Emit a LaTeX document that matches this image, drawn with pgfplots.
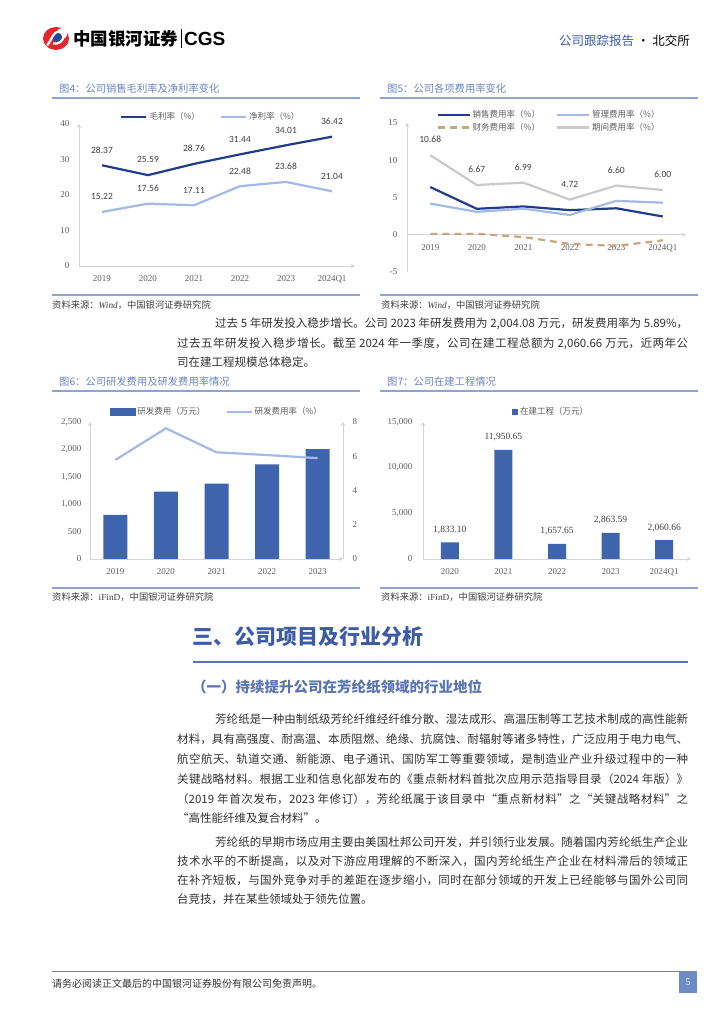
\documentclass[border=0pt]{standalone}
\usepackage{fontspec}
\usepackage{pgfplots}
\pgfplotsset{compat=1.18}
\setmainfont{Noto Sans CJK SC}
\newfontfamily\tnr{Liberation Serif}
\newfontfamily\calib{Carlito}
\newfontfamily\arl{Liberation Sans}
\XeTeXlinebreaklocale "zh"
\XeTeXlinebreakskip=0pt plus 2pt minus 0.3pt

\definecolor{navy}{HTML}{1F3D8C}
\definecolor{lblue}{HTML}{A3B9E6}
\definecolor{tanc}{HTML}{C9A679}
\definecolor{lgray}{HTML}{CACACA}
\definecolor{barblue}{HTML}{3E64AD}
\definecolor{ttlblue}{HTML}{6A86C2}
\definecolor{rulec}{HTML}{8FA3D0}
\definecolor{headblue}{HTML}{3D5CA6}
\definecolor{axgray}{HTML}{D4D4D4}
\definecolor{tickc}{HTML}{5E5E5E}
\definecolor{labc}{HTML}{404040}
\definecolor{bodyc}{HTML}{333333}
\definecolor{logored}{HTML}{E0282E}
\definecolor{logoblue}{HTML}{1F4A9C}
\definecolor{pagebox}{HTML}{6F8BC6}

\pgfplotsset{
  cmn/.style={
    scale only axis, clip=false,
    axis line style={draw=axgray, line width=0.9pt},
    every outer x axis line/.append style={-},
    every outer y axis line/.append style={-},
    every inner x axis line/.append style={-},
    every inner y axis line/.append style={-},
    major tick length=0pt,
    scaled y ticks=false,
    hide obscured x ticks=false, hide obscured y ticks=false,
    /pgf/number format/assume math mode=true,
    /pgf/number format/1000 sep={,},
    tick label style={font=\tnr\fontsize{9}{10}\selectfont, text=tickc},
    xticklabel style={yshift=-6pt},
    legend cell align=left,
    legend style={draw=none, fill=none, font=\fontsize{8.5}{10}\selectfont, text=tickc,
      /tikz/every even column/.append style={column sep=18pt}},
  },
  lineleg/.style={legend image code/.code={\draw[##1] (0pt,0pt) -- (25pt,0pt);}},
  lineleg2/.style={legend image code/.code={\draw[##1] (0pt,0pt) -- (32pt,0pt);}},
  lbl/.style={nodes near coords={\pgfmathprintnumber[fixed,fixed zerofill,precision=2]{\pgfplotspointmeta}},
    every node near coord/.append style={font=\calib\fontsize{9.5}{10}\selectfont, text=labc,
      anchor=south, inner sep=0pt, yshift=11pt}},
}

% one justified line of body text, x, baseline y, width, text
\newcommand{\jl}[4]{\node[anchor=base west,inner sep=0pt,text=bodyc,font=\fontsize{11.5}{14}\selectfont] at (#1,#2) {\parbox[b]{#3pt}{\parindent=0pt\parfillskip=0pt #4\par}};}
\newcommand{\lastl}[3]{\node[anchor=base west,inner sep=0pt,text=bodyc,font=\fontsize{11.5}{14}\selectfont] at (#1,#2) {#3};}

\begin{document}
\begin{tikzpicture}[x=1pt,y=1pt]
\path[use as bounding box, fill=white] (0,0) rectangle (724,1024);

% header
\begin{scope}[shift={(56,985.5)}]
  \fill[logored] (0,0) ellipse (13 and 11.5);
  \fill[white] (6,5) circle (5.5);
  \fill[logoblue] (1.5,1) circle (4.8);
  \draw[white, line width=2.2pt] (-9,-7) .. controls (-4,-1) and (-3,7) .. (3,7);
  \draw[white, line width=2.2pt] (-3,-5) .. controls (3,-6) and (6,-3) .. (8,2);
\end{scope}
\node[anchor=west, inner sep=0pt, font=\fontsize{17.5}{20}\selectfont\bfseries] at (73,985) {中国银河证券};
\draw[line width=1pt] (181,995) -- (181,976);
\node[anchor=west, inner sep=0pt, font=\arl\fontsize{19}{20}\selectfont\bfseries] at (184,985) {CGS};
\node[anchor=east, inner sep=0pt, font=\fontsize{12.5}{14}\selectfont] at (690,983) {{\color{headblue}公司跟踪报告}\ ·\ 北交所};

% chart titles and rules
\node[anchor=west, inner sep=0pt, text=ttlblue, font=\fontsize{10.3}{12}\selectfont] at (59,935) {图4：公司销售毛利率及净利率变化};
\node[anchor=west, inner sep=0pt, text=ttlblue, font=\fontsize{10.3}{12}\selectfont] at (387,935) {图5：公司各项费用率变化};
\node[anchor=west, inner sep=0pt, text=ttlblue, font=\fontsize{10.3}{12}\selectfont] at (59,642) {图6：公司研发费用及研发费用率情况};
\node[anchor=west, inner sep=0pt, text=ttlblue, font=\fontsize{10.3}{12}\selectfont] at (387,642) {图7：公司在建工程情况};
\draw[rulec, line width=1.1pt] (52,926) -- (360,926);
\draw[rulec, line width=1.1pt] (380,926) -- (698,926);
\draw[rulec, line width=1.1pt] (52,729) -- (360,729);
\draw[rulec, line width=1.1pt] (380,729) -- (698,729);
\draw[rulec, line width=1.1pt] (52,633) -- (360,633);
\draw[rulec, line width=1.1pt] (380,633) -- (698,633);
\draw[rulec, line width=1.1pt] (52,436) -- (360,436);
\draw[rulec, line width=1.1pt] (380,436) -- (698,436);
\node[anchor=west, inner sep=0pt, text=labc, font=\fontsize{9.3}{11}\selectfont] at (52,719) {资料来源：{\tnr\itshape Wind}，中国银河证券研究院};
\node[anchor=west, inner sep=0pt, text=labc, font=\fontsize{9.3}{11}\selectfont] at (381,719) {资料来源：{\tnr\itshape Wind}，中国银河证券研究院};
\node[anchor=west, inner sep=0pt, text=labc, font=\fontsize{9.3}{11}\selectfont] at (52,427) {资料来源：{\tnr iFinD}，中国银河证券研究院};
\node[anchor=west, inner sep=0pt, text=labc, font=\fontsize{9.3}{11}\selectfont] at (381,427) {资料来源：{\tnr iFinD}，中国银河证券研究院};

% chart 1
\begin{axis}[cmn, at={(79pt,758pt)}, anchor=south west, width=276pt, height=142pt,
  axis x line=bottom, axis y line=left,
  xmin=-0.5, xmax=5.5, ymin=0, ymax=40, ytick={0,10,20,30,40},
  xtick={0,...,5}, xticklabels={2019,2020,2021,2022,2023,2024Q1},
  yticklabel style={xshift=-6pt},
  legend columns=2, legend style={at={(0.478,1.049)}, anchor=center}]
\addplot[navy, line width=2.2pt, mark=none, lineleg, lbl] coordinates {(0,28.37)(1,25.59)(2,28.76)(3,31.44)(4,34.01)(5,36.42)};
\addlegendentry{毛利率（\%）}
\addplot[lblue, line width=2.2pt, mark=none, lineleg, lbl] coordinates {(0,15.22)(1,17.56)(2,17.11)(3,22.48)(4,23.68)(5,21.04)};
\addlegendentry{净利率（\%）}
\end{axis}

% chart 2
\begin{axis}[cmn, at={(407pt,752pt)}, anchor=south west, width=279pt, height=149pt,
  axis x line=middle, axis y line=left,
  xmin=-0.5, xmax=5.5, ymin=-5, ymax=15, ytick={-5,0,5,10,15},
  xtick={0,...,5}, xticklabels={2019,2020,2021,2022,2023,2024Q1},
  yticklabel style={xshift=-6pt},
  legend columns=2, legend style={at={(0.509,1.013)}, anchor=center,
    /tikz/every even column/.append style={column sep=14pt}}]
\addplot[navy, line width=2.2pt, mark=none, lineleg2] coordinates {(0,6.40)(1,3.48)(2,3.80)(3,3.30)(4,3.55)(5,2.45)};
\addlegendentry{销售费用率（\%）}
\addplot[lblue, line width=2.2pt, mark=none, lineleg2] coordinates {(0,4.18)(1,3.07)(2,3.50)(3,2.65)(4,4.55)(5,4.30)};
\addlegendentry{管理费用率（\%）}
\addplot[tanc, line width=2.2pt, dash pattern=on 7pt off 5pt, mark=none, lineleg2] coordinates {(0,0.10)(1,0.12)(2,-0.31)(3,-1.23)(4,-1.50)(5,-0.75)};
\addlegendentry{财务费用率（\%）}
\addplot[lgray, line width=2.2pt, mark=none, lineleg2, lbl] coordinates {(0,10.68)(1,6.67)(2,6.99)(3,4.72)(4,6.60)(5,6.00)};
\addlegendentry{期间费用率（\%）}
\end{axis}

% chart 3
\begin{axis}[cmn, at={(90pt,465pt)}, anchor=south west, width=253pt, height=137pt,
  axis x line=bottom, axis y line=left, ybar, bar width=24pt,
  xmin=-0.5, xmax=4.5, ymin=0, ymax=2500, ytick={0,500,1000,1500,2000,2500},
  xtick={0,...,4}, xticklabels={2019,2020,2021,2022,2023},
  yticklabel style={xshift=-5pt}]
\addplot[fill=barblue, draw=none] coordinates {(0,803)(1,1228)(2,1374)(3,1728)(4,2004.08)};
\end{axis}
\begin{axis}[cmn, at={(90pt,465pt)}, anchor=south west, width=253pt, height=137pt,
  axis x line=none, axis y line=right,
  xmin=-0.5, xmax=4.5, ymin=0, ymax=8, ytick={0,2,4,6,8}, xtick=\empty,
  yticklabel style={xshift=6pt},
  legend columns=2, legend style={at={(0.502,1.073)}, anchor=center}]
\addlegendimage{legend image code/.code={\fill[barblue] (0pt,-3.5pt) rectangle (25pt,3.5pt);}}
\addlegendentry{研发费用（万元）}
\addplot[lblue, line width=2.2pt, mark=none, lineleg] coordinates {(0,5.78)(1,7.63)(2,6.23)(3,6.07)(4,5.89)};
\addlegendentry{研发费用率（\%）}
\end{axis}

% chart 4
\begin{axis}[cmn, at={(423pt,465pt)}, anchor=south west, width=268pt, height=137pt,
  axis x line=bottom, axis y line=left, ybar, bar width=18pt,
  xmin=-0.5, xmax=4.5, ymin=0, ymax=15000, ytick={0,5000,10000,15000},
  xtick={0,...,4}, xticklabels={2020,2021,2022,2023,2024Q1},
  yticklabel style={xshift=-7pt},
  legend style={at={(0.478,1.073)}, anchor=center}]
\addplot[fill=barblue, draw=none,
  legend image code/.code={\fill[barblue] (0pt,-3pt) rectangle (6pt,3pt);},
  nodes near coords, point meta=explicit symbolic,
  every node near coord/.append style={font=\tnr\fontsize{9.5}{10}\selectfont, text=labc, anchor=south, inner sep=0pt, yshift=8.5pt}]
  table[x=x, y=y, meta=lab] {
x y lab
0 1833.10 {1,833.10}
1 11950.65 {11,950.65}
2 1657.65 {1,657.65}
3 2863.59 {2,863.59}
4 2060.66 {2,060.66}
};
\addlegendentry{在建工程（万元）}
\end{axis}

% paragraph 1
\jl{215}{696.6}{473}{过去 5 年研发投入稳步增长。公司 2023 年研发费用为 2,004.08 万元，研发费用率为 5.89\%，}
\jl{177}{676.6}{511}{过去五年研发投入稳步增长。截至 2024 年一季度，公司在建工程总额为 2,060.66 万元，近两年公}
\lastl{177}{657.6}{司在建工程规模总体稳定。}

% headings
\node[anchor=west, inner sep=0pt, text=headblue, font=\fontsize{21}{24}\selectfont\bfseries] at (192,387) {三、公司项目及行业分析};
\draw[headblue!85, line width=1.5pt] (193,362) -- (688,362);
\node[anchor=west, inner sep=0pt, text=headblue!85, font=\fontsize{14.5}{16}\selectfont\bfseries] at (192,337) {（一）持续提升公司在芳纶纸领域的行业地位};

% paragraph 2
\jl{215}{300.6}{473}{芳纶纸是一种由制纸级芳纶纤维经纤维分散、湿法成形、高温压制等工艺技术制成的高性能新}
\jl{177}{280.6}{511}{材料，具有高强度、耐高温、本质阻燃、绝缘、抗腐蚀、耐辐射等诸多特性，广泛应用于电力电气、}
\jl{177}{260.6}{511}{航空航天、轨道交通、新能源、电子通讯、国防军工等重要领域，是制造业产业升级过程中的一种}
\jl{177}{240.6}{511}{关键战略材料。根据工业和信息化部发布的《重点新材料首批次应用示范指导目录（2024 年版）》}
\jl{177}{220.6}{511}{（2019 年首次发布，2023 年修订），芳纶纸属于该目录中“重点新材料”之“关键战略材料”之}
\lastl{177}{201.6}{“高性能纤维及复合材料”。}

% paragraph 3
\jl{215}{177.6}{473}{芳纶纸的早期市场应用主要由美国杜邦公司开发，并引领行业发展。随着国内芳纶纸生产企业}
\jl{177}{158.6}{511}{技术水平的不断提高，以及对下游应用理解的不断深入，国内芳纶纸生产企业在材料滞后的领域正}
\jl{177}{139.6}{511}{在补齐短板，与国外竞争对手的差距在逐步缩小，同时在部分领域的开发上已经能够与国外公司同}
\lastl{177}{120.6}{台竞技，并在某些领域处于领先位置。}

% footer
\draw[gray, line width=0.8pt] (52,53) -- (697,53);
\node[anchor=west, inner sep=0pt, text=bodyc, font=\fontsize{10}{12}\selectfont] at (52,40) {请务必阅读正文最后的中国银河证券股份有限公司免责声明。};
\fill[pagebox] (679,31) rectangle (697,53);
\node[text=white, inner sep=0pt, font=\tnr\fontsize{10}{12}\selectfont] at (688,42) {5};
\end{tikzpicture}
\end{document}
